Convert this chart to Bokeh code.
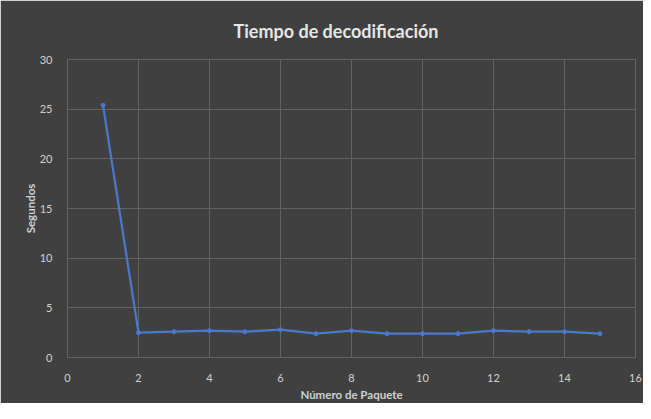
from bokeh.plotting import figure
from bokeh.models import ColumnDataSource, Range1d, FixedTicker
from bokeh.embed import file_html
from bokeh.resources import INLINE

paquete = [1, 2, 3, 4, 5, 6, 7, 8, 9, 10, 11, 12, 13, 14, 15]
segundos = [25.4, 2.5, 2.6, 2.7, 2.6, 2.8, 2.4, 2.7, 2.4, 2.4, 2.4, 2.7, 2.6, 2.6, 2.4]
x_ticks = [0, 2, 4, 6, 8, 10, 12, 14, 16]
y_ticks = [0, 5, 10, 15, 20, 25, 30]
titulo = "Tiempo de decodificación"

BG = "#404040"
GRID = "#636363"
TXT = "#d0d0d0"
FONT = "Lato"

src = ColumnDataSource(dict(x=paquete, y=segundos))

p = figure(width=643, height=403, output_backend="svg", toolbar_location=None,
           x_range=Range1d(0, 16), y_range=Range1d(0, 30), title=titulo,
           min_border_left=67, min_border_right=8, min_border_top=59, min_border_bottom=42)
p.background_fill_color = BG
p.border_fill_color = BG
p.outline_line_color = GRID

p.title.align = "left"
p.title.offset = 166
p.title.standoff = 35
p.title.text_color = "#e6e6e6"
p.title.text_font = FONT
p.title.text_font_size = "18px"
p.title.text_font_style = "bold"

p.xaxis.ticker = FixedTicker(ticks=x_ticks)
p.yaxis.ticker = FixedTicker(ticks=y_ticks)
for ax in (p.xaxis, p.yaxis):
    ax.axis_line_color = None
    ax.major_tick_line_color = None
    ax.minor_tick_line_color = None
    ax.major_label_text_color = TXT
    ax.major_label_text_font = FONT
    ax.major_label_text_font_size = "11px"
    ax.axis_label_text_color = TXT
    ax.axis_label_text_font = FONT
    ax.axis_label_text_font_size = "11.5px"
    ax.axis_label_text_font_style = "bold"
p.xaxis.axis_label = "Número de Paquete"
p.yaxis.axis_label = "Segundos"
p.xaxis.major_label_standoff = 10
p.yaxis.major_label_standoff = 9
p.xaxis.axis_label_standoff = 3
p.yaxis.axis_label_standoff = 0

p.xgrid.grid_line_color = GRID
p.ygrid.grid_line_color = GRID
p.xgrid.grid_line_width = 1
p.ygrid.grid_line_width = 1

p.line("x", "y", source=src, line_color="#4a79cb", line_width=2.2)
p.scatter("x", "y", source=src, size=4, fill_color="#4a79cb", line_color="#4a79cb")

open("out.html", "w").write(file_html(p, INLINE))
